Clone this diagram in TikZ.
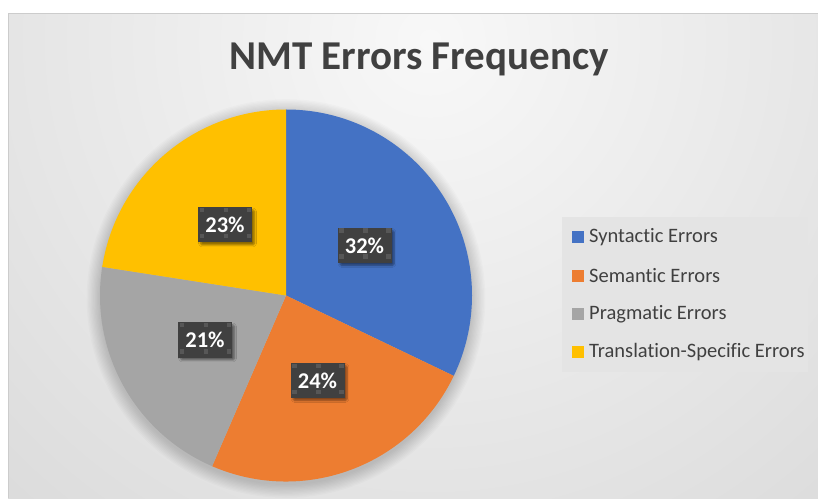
\documentclass[tikz,border=0pt]{standalone}
\usepackage{fontspec}
\setmainfont{Carlito}[RawFeature={-liga}]
\usetikzlibrary{shadows.blur}
\definecolor{synC}{HTML}{4472C4}
\definecolor{semC}{HTML}{ED7D31}
\definecolor{praC}{HTML}{A5A5A5}
\definecolor{traC}{HTML}{FFC000}
\definecolor{txtC}{HTML}{404040}
\definecolor{bgIn}{HTML}{F8F8F8}
\definecolor{bgOut}{HTML}{BDBDBD}
\definecolor{frameC}{HTML}{CCCCCC}
\definecolor{legC}{HTML}{E4E4E4}
\definecolor{lblC}{HTML}{404040}
\definecolor{handleC}{HTML}{575757}
% small square marks on a label box
\newcommand{\labelhandles}[1]{%
  \foreach \dx in {-25.5,-1.5,21.5}{
    \foreach \dy in {12.5,-13.5}{
      \fill[handleC] ([shift={(\dx,\dy)}]#1.center) rectangle ++(4.5,4.5);
    }
  }%
}
\begin{document}
\begin{tikzpicture}[x=1pt,y=1pt,
  pctbox/.style={fill=lblC, inner sep=0pt,
    minimum width=54pt, minimum height=35pt,
    blur shadow={shadow xshift=2.5pt, shadow yshift=-2.5pt,
      shadow blur steps=6, shadow blur extra rounding=1.5pt, shadow opacity=45}},
  pcttext/.style={text=white, inner sep=0pt,
    font=\bfseries\fontsize{22.5}{26}\selectfont},
  legkey/.style={minimum size=12pt, inner sep=0pt},
  legtext/.style={anchor=west, inner sep=0pt, text=txtC,
    font=\fontsize{20.5}{24}\selectfont},
]
\useasboundingbox (0,0) rectangle (818,498);

% chart area background
\begin{scope}
  \clip (8,0) rectangle (818,484);
  \shade[inner color=bgIn, outer color=bgOut] (430,458) circle[radius=1300];
\end{scope}
\draw[frameC, line width=1pt] (8,0) -- (8,484) -- (818,484);

% title
\node[anchor=base, text=txtC, inner sep=0pt,
  font=\bfseries\fontsize{41}{48}\selectfont] (title) at (419,428)
  {NMT Errors Frequency};

% soft halo under the pie
\foreach \r [evaluate=\r as \rr using 185+\r*1.3] in {1,...,11}{
  \fill[black, opacity=0.017] (286,199.5) circle[radius=\rr];
}

% pie slices (clockwise from the top)
\coordinate (pc) at (286,202.5);
\def\pr{186}
\fill[synC] (pc) -- ++(90:\pr) arc[start angle=90, end angle=-25.6, radius=\pr] -- cycle;
\fill[semC] (pc) -- ++(-25.6:\pr) arc[start angle=-25.6, end angle=-113.4, radius=\pr] -- cycle;
\fill[praC] (pc) -- ++(-113.4:\pr) arc[start angle=-113.4, end angle=-188.85, radius=\pr] -- cycle;
\fill[traC] (pc) -- ++(-188.85:\pr) arc[start angle=-188.85, end angle=-270, radius=\pr] -- cycle;

% percentage labels
\node[pctbox] (bsyn) at (364.5,252.5) {};
\node[pctbox] (bsem) at (317.5,117.5) {};
\node[pctbox] (bpra) at (205,158) {};
\node[pctbox] (btra) at (225,273) {};
\labelhandles{bsyn}
\labelhandles{bsem}
\labelhandles{bpra}
\labelhandles{btra}
\node[pcttext] (lsyn) at (bsyn.center) {32\%};
\node[pcttext] (lsem) at (bsem.center) {24\%};
\node[pcttext] (lpra) at (bpra.center) {21\%};
\node[pcttext] (ltra) at (btra.center) {23\%};

% legend
\fill[legC] (562,281) rectangle (808,126);
\node[legkey, fill=synC] (k1) at (578,261) {};
\node[legkey, fill=semC] (k2) at (578,222) {};
\node[legkey, fill=praC] (k3) at (578,184) {};
\node[legkey, fill=traC] (k4) at (578,146) {};
\node[legtext] (t1) at (589,261) {Syntactic Errors};
\node[legtext] (t2) at (589,222) {Semantic Errors};
\node[legtext] (t3) at (589,184) {Pragmatic Errors};
\node[legtext] (t4) at (589,146) {Translation-Specific Errors};
\end{tikzpicture}
\end{document}
